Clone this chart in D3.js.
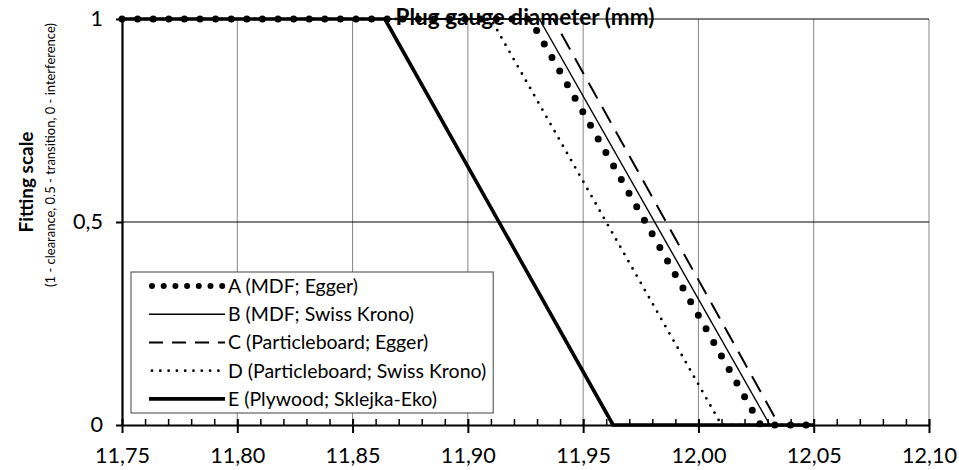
<!DOCTYPE html>
<html>
<head>
<meta charset="utf-8">
<script src="https://cdn.jsdelivr.net/npm/d3@7"></script>
<style>
  body { margin: 0; background: #fff; }
  svg { display: block; font-family: Lato, "Open Sans", sans-serif; }
</style>
</head>
<body>
<div id="chart"></div>
<script>
// Data
const seriesNames = ['A (MDF; Egger)', 'B (MDF; Swiss Krono)', 'C (Particleboard; Egger)',
                     'D (Particleboard; Swiss Krono)', 'E (Plywood; Sklejka-Eko)']
const seriesA = [[11.75, 1], [11.927, 1], [12.027, 0], [12.05, 0]]
const seriesB = [[11.75, 1], [11.931, 1], [12.031, 0], [12.05, 0]]
const seriesC = [[11.75, 1], [11.937, 1], [12.035, 0], [12.05, 0]]
const seriesD = [[11.75, 1], [11.910, 1], [12.010, 0], [12.05, 0]]
const seriesE = [[11.75, 1], [11.864, 1], [11.963, 0], [12.05, 0]]
const xTicks = [11.75, 11.80, 11.85, 11.90, 11.95, 12.00, 12.05, 12.10]
const xMinorTicks = d3.range(0, 36).map(i => 11.75 + i * 0.01)
const yTicks = [0, 0.5, 1]

// scale a text's font so it spans the wanted width
function fitFont(sel, target){
    const fs = parseFloat(sel.attr('font-size'))
    const w = sel.node().getComputedTextLength()
    return fs * target / w
}

function draw(){
    const dims = {
        width: 959,
        height: 470,
        margin: { top: 19, bottom: 45, left: 122, right: 30 }
    }
    dims.ctrWidth = dims.width - dims.margin.left - dims.margin.right
    dims.ctrHeight = dims.height - dims.margin.top - dims.margin.bottom

    // Scales
    const xScale = d3.scaleLinear().domain([11.75, 12.10]).range([0, dims.ctrWidth])
    const yScale = d3.scaleLinear().domain([0, 1]).range([dims.ctrHeight, 0])

    const loc = d3.formatLocale({ decimal: ',', thousands: '.', grouping: [3], currency: ['', ''] })
    const xFmt = loc.format('.2f')
    const yFmt = loc.format('.1~f')

    const svg = d3.select('#chart').append('svg')
        .attr('width', dims.width)
        .attr('height', dims.height)

    const ctr = svg.append('g')
        .attr('transform', `translate(${dims.margin.left}, ${dims.margin.top})`)

    // Grid
    ctr.append('g').selectAll('line')
        .data(xTicks.slice(1))
        .join('line')
        .attr('x1', d => xScale(d)).attr('x2', d => xScale(d))
        .attr('y1', 0).attr('y2', dims.ctrHeight)
        .attr('stroke', '#868686').attr('stroke-width', 1)
    ctr.append('g').selectAll('line')
        .data(yTicks.slice(1))
        .join('line')
        .attr('x1', 0).attr('x2', dims.ctrWidth)
        .attr('y1', d => yScale(d)).attr('y2', d => yScale(d))
        .attr('stroke', '#000').attr('stroke-width', 1)

    // Series styles
    const styles = [
        { data: seriesA, width: 7, dash: '0 15.6', legDash: '0 11.7', cap: 'round' },
        { data: seriesB, width: 1.4, dash: null, legDash: null, cap: 'butt' },
        { data: seriesC, width: 2, dash: '18 10', legDash: '14 9', cap: 'butt' },
        { data: seriesD, width: 2.8, dash: '0 8.3', legDash: '0 8.3', cap: 'round' },
        { data: seriesE, width: 3.6, dash: null, legDash: null, cap: 'butt' }
    ]

    const line = d3.line()
        .x(d => xScale(d[0]))
        .y(d => yScale(d[1]))

    ctr.append('g').selectAll('path')
        .data(styles)
        .join('path')
        .attr('d', d => line(d.data))
        .attr('fill', 'none')
        .attr('stroke', '#000')
        .attr('stroke-width', d => d.width)
        .attr('stroke-dasharray', d => d.dash)
        .attr('stroke-linecap', d => d.cap)
        .attr('stroke-linejoin', 'round')

    // Axes
    const xAxisGroup = ctr.append('g')
        .attr('transform', `translate(0, ${dims.ctrHeight})`)
    xAxisGroup.append('g')
        .call(d3.axisBottom(xScale).tickValues(xMinorTicks).tickSize(-6).tickFormat(''))
        .call(g => g.select('.domain').remove())
        .selectAll('line').attr('stroke-width', 1.5)
    const xAxis = xAxisGroup.append('g')
        .call(d3.axisBottom(xScale).tickValues(xTicks).tickSizeInner(8).tickSizeOuter(0).tickFormat(xFmt))
    xAxis.select('.domain').attr('stroke-width', 2.2)
    xAxis.selectAll('.tick line').attr('y1', -6).attr('stroke-width', 2)
    const xLabels = xAxis.selectAll('text')
        .attr('font-size', 20).attr('fill', '#000').attr('font-family', 'Lato')
        .attr('y', 38).attr('dy', 0)
    const tickFont = fitFont(xAxis.select('.tick:nth-of-type(2) text'), 55)
    xLabels.attr('font-size', tickFont)

    const yAxis = ctr.append('g')
        .call(d3.axisLeft(yScale).tickValues(yTicks).tickSizeInner(6).tickSizeOuter(0).tickPadding(13).tickFormat(yFmt))
    yAxis.select('.domain').attr('stroke-width', 2.2)
    yAxis.selectAll('.tick line').attr('stroke-width', 2)
    yAxis.selectAll('text').attr('font-size', tickFont).attr('fill', '#000').attr('font-family', 'Lato')

    // Legend
    const leg = svg.append('g').attr('transform', 'translate(131, 272)')
    const legRect = leg.append('rect')
        .attr('height', 141)
        .attr('fill', '#fff').attr('stroke', '#404040').attr('stroke-width', 1)
    const rows = leg.selectAll('g.row')
        .data(styles)
        .join('g')
        .attr('class', 'row')
        .attr('transform', (d, i) => `translate(0, ${14.1 + i * 28.2})`)
    rows.append('line')
        .attr('x1', d => d.cap === 'round' ? 21 : 18).attr('x2', 94)
        .attr('stroke', '#000')
        .attr('stroke-width', d => d.width === 7 ? 6 : d.width)
        .attr('stroke-dasharray', d => d.legDash)
        .attr('stroke-linecap', d => d.cap)
    const legText = rows.append('text')
        .attr('x', 97).attr('dy', '0.35em')
        .attr('font-size', 18)
        .text((d, i) => seriesNames[i])
    legText.attr('font-size', fitFont(d3.select(legText.nodes()[0]), 130))
    const maxW = d3.max(legText.nodes(), n => n.getComputedTextLength())
    legRect.attr('width', 97 + maxW + 7)

    // Titles
    const title = svg.append('text')
        .attr('x', 525).attr('y', 25)
        .attr('text-anchor', 'middle')
        .attr('font-weight', 'bold')
        .attr('font-size', 20)
        .text('Plug gauge diameter (mm)')
    title.attr('font-size', fitFont(title, 259))

    const yTitle = svg.append('text')
        .attr('transform', 'translate(33, 182) rotate(-90)')
        .attr('text-anchor', 'middle')
        .attr('font-weight', 'bold')
        .attr('font-size', 18)
        .text('Fitting scale')
    yTitle.attr('font-size', fitFont(yTitle, 101))

    const ySub = svg.append('text')
        .attr('transform', 'translate(55, 155) rotate(-90)')
        .attr('text-anchor', 'middle')
        .attr('font-size', 14)
        .text('(1 - clearance, 0.5 - transition, 0 - interference)')
    ySub.attr('font-size', fitFont(ySub, 264))
}
draw()
</script>
</body>
</html>
